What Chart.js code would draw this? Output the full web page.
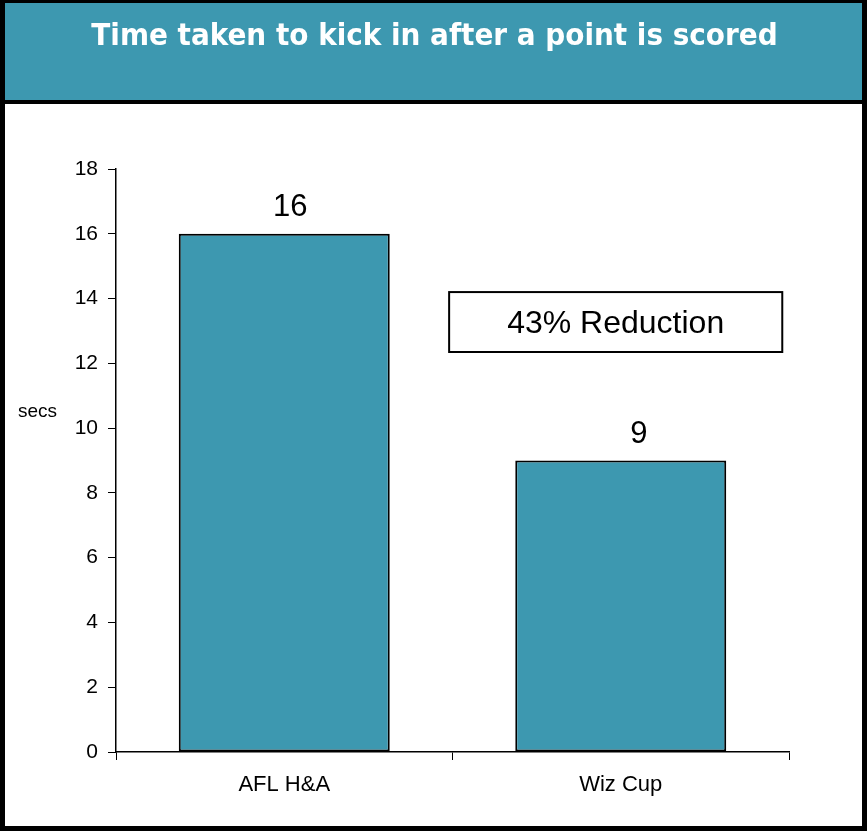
<!DOCTYPE html>
<html>
<head>
<meta charset="utf-8">
<script src="https://cdn.jsdelivr.net/npm/chart.js@4/dist/chart.umd.min.js"></script>
<style>
  html, body { margin: 0; padding: 0; background: #fff; }
  canvas { display: block; }
</style>
</head>
<body>
<canvas id="canvas" width="867" height="831"></canvas>
<script>
const categories = ["AFL H&A", "Wiz Cup"];
const seconds = [16, 9];
const yTicks = [0, 2, 4, 6, 8, 10, 12, 14, 16, 18];
const titleText = "Time taken to kick in after a point is scored";
const axisLabel = "secs";
const noteText = "43% Reduction";

const TEAL = "#3d98b0";
const FONT = "'Liberation Sans', Arial, sans-serif";

// рамка, шапка и заголовок
const frame = {
    id: "frame",
    beforeDraw(chart) {
        const c = chart.ctx;
        const w = chart.width, h = chart.height;
        c.save();
        c.fillStyle = "#fff";
        c.fillRect(0, 0, w, h);
        c.fillStyle = TEAL;
        c.fillRect(0, 0, w, 102);
        c.fillStyle = "#000";
        c.fillRect(0, 100, w, 4);       // линия под шапкой
        c.fillRect(0, 0, w, 3);
        c.fillRect(0, 0, 5, h);
        c.fillRect(w - 5, 0, 5, h);
        c.fillRect(0, h - 5, w, 5);
        c.restore();
    },
    afterDraw(chart) {
        const c = chart.ctx;
        c.save();
        c.fillStyle = "#fff";
        c.font = "bold 31px 'DejaVu Sans Condensed', 'DejaVu Sans', sans-serif";
        c.textAlign = "center";
        c.textBaseline = "alphabetic";
        c.fillText(titleText, chart.width / 2 + 1, 45);

        // подпись оси y, горизонтально
        const y = chart.scales.y;
        c.fillStyle = "#000";
        c.font = "19px " + FONT;
        c.textAlign = "left";
        c.textBaseline = "middle";
        c.fillText(axisLabel, 18, y.getPixelForValue(10.5));
        c.restore();
    },
};

// значения над столбиками и рамка с текстом
const labels = {
    id: "labels",
    afterDatasetsDraw(chart) {
        const c = chart.ctx;
        const meta = chart.getDatasetMeta(0);
        c.save();
        c.fillStyle = "#000";
        c.font = "31px " + FONT;
        c.textAlign = "center";
        c.textBaseline = "alphabetic";
        meta.data.forEach((bar, i) => {
            c.fillText(String(seconds[i]), bar.x + 6 + i * 12, bar.y - 18);
        });

        const xs = chart.scales.x, ys = chart.scales.y;
        const x0 = xs.getPixelForValue(0.49), x1 = xs.getPixelForValue(1.48);
        const y0 = ys.getPixelForValue(14.2), y1 = ys.getPixelForValue(12.35);
        c.fillStyle = "#fff";
        c.fillRect(x0, y0, x1 - x0, y1 - y0);
        c.strokeStyle = "#000";
        c.lineWidth = 2;
        c.strokeRect(x0, y0, x1 - x0, y1 - y0);
        c.fillStyle = "#000";
        c.font = "32px " + FONT;
        c.textBaseline = "middle";
        c.fillText(noteText, (x0 + x1) / 2, (y0 + y1) / 2 + 2);
        c.restore();
    },
};

new Chart(document.getElementById("canvas"), {
    type: "bar",
    data: {
        labels: categories,
        datasets: [{
            data: seconds,
            backgroundColor: TEAL,
            borderColor: "#000",
            borderWidth: 2,
            borderSkipped: false,
            categoryPercentage: 1,
            barPercentage: 0.627,
        }],
    },
    options: {
        responsive: false,
        animation: false,
        plugins: {
            legend: {display: false},
            tooltip: {enabled: false},
        },
        layout: {
            padding: {left: 0, right: 78, top: 169, bottom: 0},
        },
        scales: {
            x: {
                grid: {
                    display: true,
                    drawOnChartArea: false,
                    offset: true,
                    color: "#000",
                    tickLength: 8,
                },
                border: {color: "#000", width: 1.5},
                ticks: {
                    color: "#000",
                    padding: 12,
                    font: {family: FONT, size: 22},
                },
                afterFit(s) { s.height = 79; },
            },
            y: {
                min: 0,
                max: 18,
                afterBuildTicks(s) { s.ticks = yTicks.map(v => ({value: v})); },
                grid: {
                    display: true,
                    drawOnChartArea: false,
                    color: "#000",
                    tickLength: 8,
                },
                border: {color: "#000", width: 1.5},
                ticks: {
                    color: "#000",
                    padding: 10,
                    font: {family: FONT, size: 21},
                },
                afterFit(s) { s.width = 116; },
            },
        },
    },
    plugins: [frame, labels],
});
</script>
</body>
</html>
